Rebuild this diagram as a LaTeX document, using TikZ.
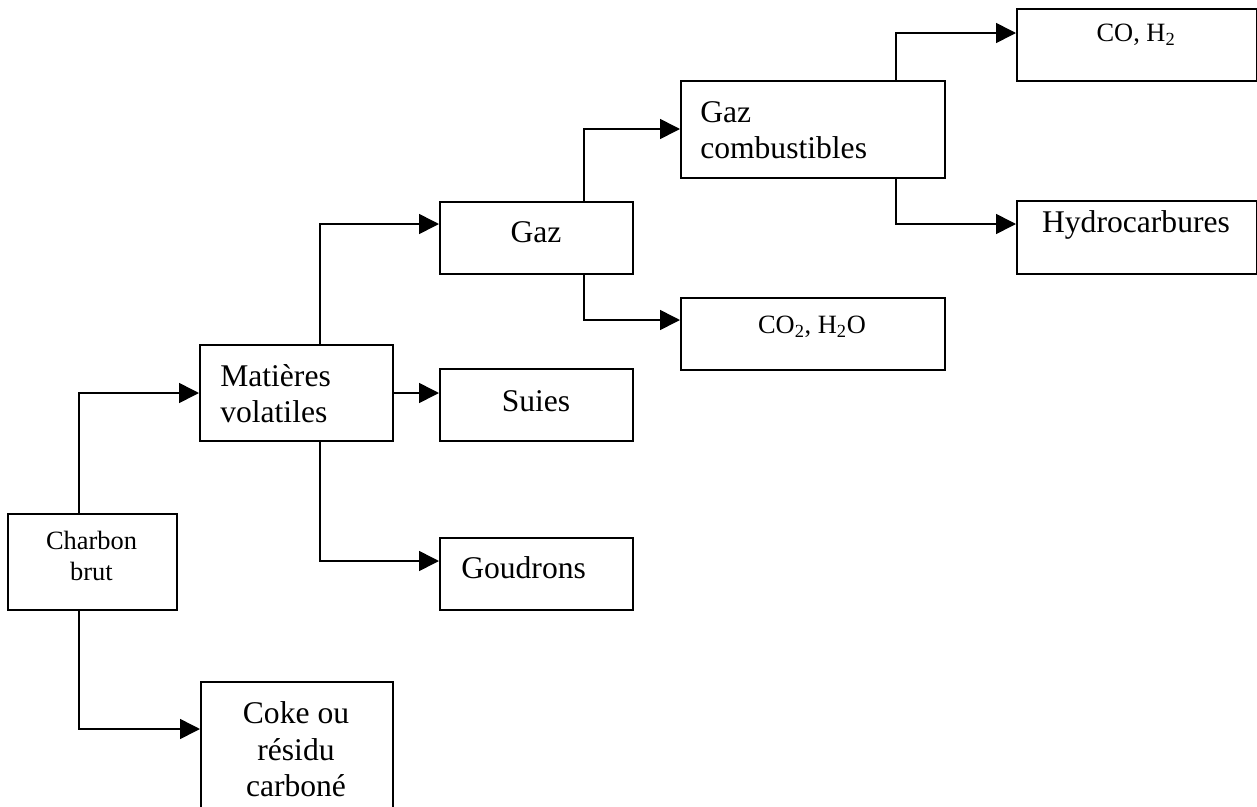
\documentclass[tikz,border=0pt]{standalone}
\usepackage{fontspec}
\setmainfont{Liberation Serif}
\usetikzlibrary{arrows.meta,calc}
\begin{document}
\begin{tikzpicture}[x=0.75pt,y=-0.75pt,
  box/.style={draw,line width=1.5pt,anchor=north west,inner sep=0pt},
  conn/.style={line width=1.2pt,-{Triangle[length=15pt,width=15pt]}},
  big/.style={inner sep=0pt,font=\fontsize{23.7pt}{28pt}\selectfont},
  small/.style={inner sep=0pt,font=\fontsize{19.8pt}{24pt}\selectfont}]
\fill[white] (0,0) rectangle (1257,807);
\useasboundingbox (0,0) rectangle (1257,807);
\clip (0,0) rectangle (1257,807);

% boxes
\node[box,minimum width=126.75pt,minimum height=72pt] (charbon) at (7,513) {};
\node[box,minimum width=144.75pt,minimum height=72pt] (matieres) at (199,344) {};
\node[box,minimum width=144pt,minimum height=120pt] (coke) at (200,681) {};
\node[box,minimum width=144.75pt,minimum height=54pt] (gaz) at (439,201) {};
\node[box,minimum width=144.75pt,minimum height=54pt] (suies) at (439,368) {};
\node[box,minimum width=144.75pt,minimum height=54pt] (goudrons) at (439,537) {};
\node[box,minimum width=198pt,minimum height=72.75pt] (gazcomb) at (680,80) {};
\node[box,minimum width=198pt,minimum height=54pt] (co2) at (680,297) {};
\node[box,minimum width=180pt,minimum height=54pt] (coh2) at (1016,8) {};
\node[box,minimum width=180pt,minimum height=54.75pt] (hydro) at (1016,200) {};

% labels
\node[small,anchor=base] (tcharbonA) at (91.5,549) {Charbon};
\node[small,anchor=base] (tcharbonB) at (91.5,580) {brut};
\node[big,anchor=base west] (tmatA) at (220,386) {Matières};
\node[big,anchor=base west] (tmatB) at (220,422) {volatiles};
\node[big,anchor=base] (tcokeA) at (296,723) {Coke ou};
\node[big,anchor=base] (tcokeB) at (296,760) {résidu};
\node[big,anchor=base] (tcokeC) at (296,796.5) {carboné};
\node[big,anchor=base] (tgaz) at (536,242) {Gaz};
\node[big,anchor=base] (tsuies) at (536,411) {Suies};
\node[big,anchor=base west] (tgoud) at (461,578.5) {Goudrons};
\node[big,anchor=base west] (tgcA) at (700,122) {Gaz};
\node[big,anchor=base west] (tgcB) at (700,158) {combustibles};
\node[small,anchor=base] (tco2) at (812,333) {CO\textsubscript{2}, H\textsubscript{2}O};
\node[small,anchor=base] (tcoh2) at (1136,41) {CO, H\textsubscript{2}};
\node[big,anchor=base] (thydro) at (1136,232) {Hydrocarbures};

% connectors
\draw[conn] ($(charbon.north west)+(72,0)$) |- (matieres.west);
\draw[conn] ($(charbon.south west)+(72,0)$) |- ($(coke.north west)+(0,48)$);
\draw[conn] ($(matieres.north west)+(121,0)$) |- ($(gaz.north west)+(0,23)$);
\draw[conn] (matieres.east) -- (suies.west |- matieres.east);
\draw[conn] ($(matieres.south west)+(121,0)$) |- ($(goudrons.north west)+(0,24)$);
\draw[conn] ($(gaz.north west)+(145,0)$) |- ($(gazcomb.north west)+(0,49)$);
\draw[conn] ($(gaz.south west)+(145,0)$) |- ($(co2.north west)+(0,23)$);
\draw[conn] ($(gazcomb.north west)+(216,0)$) |- ($(coh2.north west)+(0,25)$);
\draw[conn] ($(gazcomb.south west)+(216,0)$) |- ($(hydro.north west)+(0,24)$);
\end{tikzpicture}
\end{document}
